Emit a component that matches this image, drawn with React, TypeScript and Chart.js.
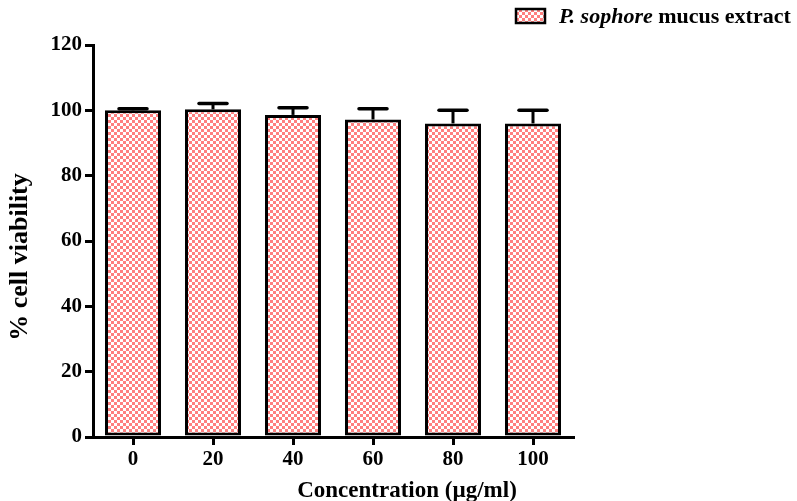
import React, { useEffect, useRef } from "react";
import { Chart, registerables } from "chart.js";

Chart.register(...registerables);

const categories: string[] = ["0", "20", "40", "60", "80", "100"];
const viability: number[] = [100, 100.3, 98.6, 97.2, 96.0, 96.0];
const viabilityErr: number[] = [0.5, 1.8, 2.2, 3.3, 4.0, 4.0];
const yTicks = { min: 0, max: 120, step: 20 };
const seriesItalic = "P. sophore";
const seriesRest = " mucus extract";
const xTitle = "Concentration (\u00b5g/ml)";
const yTitle = "% cell viability";

const FONT = "'Liberation Serif', 'Times New Roman', serif";
const PINK = "#ff7f7f";

function makePattern(): CanvasPattern | string {
  const c = document.createElement("canvas");
  c.width = 6;
  c.height = 6;
  const g = c.getContext("2d");
  if (!g) return PINK;
  g.fillStyle = "#ffffff";
  g.fillRect(0, 0, 6, 6);
  g.fillStyle = PINK;
  g.fillRect(0, 0, 3, 3);
  g.fillRect(3, 3, 3, 3);
  const p = g.createPattern(c, "repeat");
  return p || PINK;
}

export default function App() {
  const ref = useRef<HTMLCanvasElement | null>(null);

  useEffect(() => {
    if (!ref.current) return;
    const pattern = makePattern();

    const errorBars = {
      id: "errorBars",
      afterDatasetsDraw(chart: any) {
        const ctx = chart.ctx;
        const meta = chart.getDatasetMeta(0);
        const ys = chart.scales.y;
        ctx.save();
        ctx.strokeStyle = "#000";
        meta.data.forEach((bar: any, i: number) => {
          const top = ys.getPixelForValue(viability[i] + viabilityErr[i]);
          const base = ys.getPixelForValue(viability[i]);
          ctx.lineWidth = 3;
          ctx.lineCap = "butt";
          ctx.beginPath();
          ctx.moveTo(bar.x, base);
          ctx.lineTo(bar.x, top);
          ctx.stroke();
          ctx.lineWidth = 3.5;
          ctx.lineCap = "round";
          ctx.beginPath();
          ctx.moveTo(bar.x - 14, top);
          ctx.lineTo(bar.x + 14, top);
          ctx.stroke();
        });
        ctx.restore();
      },
    };

    const decorations = {
      id: "decorations",
      afterDraw(chart: any) {
        const ctx = chart.ctx;
        ctx.save();
        // legend
        ctx.fillStyle = pattern as any;
        ctx.fillRect(516, 9, 29, 14);
        ctx.strokeStyle = "#000";
        ctx.lineWidth = 2.5;
        ctx.strokeRect(516, 9, 29, 14);
        ctx.fillStyle = "#000";
        ctx.textBaseline = "alphabetic";
        ctx.textAlign = "left";
        ctx.font = `italic bold 22px ${FONT}`;
        ctx.fillText(seriesItalic, 559, 23);
        const w = ctx.measureText(seriesItalic).width;
        ctx.font = `bold 22px ${FONT}`;
        ctx.fillText(seriesRest, 559 + w, 23);
        // x title
        ctx.textAlign = "center";
        ctx.font = `bold 23px ${FONT}`;
        ctx.fillText(xTitle, 407, 497);
        // y title
        ctx.translate(27, 257);
        ctx.rotate(-Math.PI / 2);
        ctx.textAlign = "center";
        ctx.textBaseline = "alphabetic";
        ctx.font = `bold 26px ${FONT}`;
        ctx.fillText(yTitle, 0, 0);
        ctx.restore();
      },
    };

    const chart = new Chart(ref.current, {
      type: "bar",
      data: {
        labels: categories,
        datasets: [
          {
            label: seriesItalic + seriesRest,
            data: viability,
            backgroundColor: pattern as any,
            borderColor: "#000",
            borderWidth: 3,
            borderSkipped: false,
            barPercentage: 0.7,
            categoryPercentage: 1,
          },
        ],
      },
      options: {
        animation: false,
        responsive: false,
        devicePixelRatio: window.devicePixelRatio || 1,
        layout: { padding: { left: 0, top: 45, right: 224, bottom: 0 } },
        plugins: {
          legend: { display: false },
          tooltip: { enabled: false },
          title: { display: false },
        },
        scales: {
          x: {
            afterFit(scale: any) {
              scale.height = 64;
            },
            grid: {
              display: true,
              drawOnChartArea: false,
              drawTicks: true,
              tickLength: 8,
              offset: false,
              color: "#000",
              lineWidth: 3,
            },
            border: { display: true, color: "#000", width: 3 },
            ticks: {
              color: "#000",
              padding: 2,
              font: { family: FONT, size: 21, weight: "bold" },
            },
          },
          y: {
            min: yTicks.min,
            max: yTicks.max,
            afterFit(scale: any) {
              scale.width = 93;
            },
            grid: {
              display: true,
              drawOnChartArea: false,
              drawTicks: true,
              tickLength: 8,
              color: "#000",
              lineWidth: 3,
            },
            border: { display: true, color: "#000", width: 3 },
            ticks: {
              stepSize: yTicks.step,
              color: "#000",
              padding: 3,
              font: { family: FONT, size: 21, weight: "bold" },
            },
          },
        },
      },
      plugins: [errorBars, decorations],
    });

    return () => chart.destroy();
  }, []);

  return (
    <div style={{ position: "absolute", left: 0, top: 0, width: 797, height: 501, background: "#fff" }}>
      <canvas ref={ref} width={797} height={501} style={{ width: 797, height: 501, display: "block" }} />
    </div>
  );
}
